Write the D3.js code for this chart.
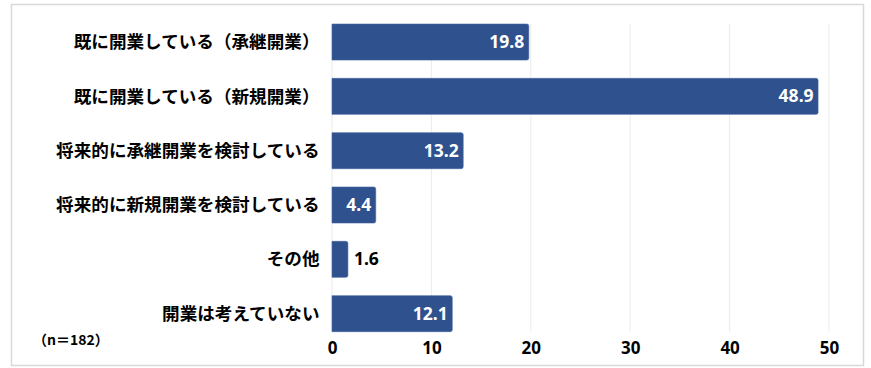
<!DOCTYPE html>
<html><head><meta charset="utf-8">
<script src="https://cdn.jsdelivr.net/npm/d3@7"></script>
<style>
html,body{margin:0;padding:0;background:#fff;}
text{font-family:"Noto Sans CJK JP","Noto Sans",sans-serif;font-weight:bold;}
</style></head>
<body>
<svg id="c" width="871" height="368"></svg>
<script>
const categories = [
  "既に開業している（承継開業）",
  "既に開業している（新規開業）",
  "将来的に承継開業を検討している",
  "将来的に新規開業を検討している",
  "その他",
  "開業は考えていない"
];
const values = [19.8, 48.9, 13.2, 4.4, 1.6, 12.1];
const tickValues = [0, 10, 20, 30, 40, 50];
const note = "（n＝182）";

const svg = d3.select("#c");
svg.append("rect").attr("x", 11.5).attr("y", 4.5).attr("width", 852).attr("height", 361)
  .attr("fill", "#fff").attr("stroke", "#d9d9d9").attr("stroke-width", 1.5);

const x = d3.scaleLinear().domain([0, 50]).range([332, 829]);
const y = d3.scaleBand().domain(categories).range([14.9, 340.8]).paddingInner(0.337).paddingOuter(0.168);

// gridlines
svg.append("g").selectAll("line").data(tickValues).join("line")
  .attr("x1", d => x(d)).attr("x2", d => x(d))
  .attr("y1", y(categories[0])).attr("y2", y(categories[categories.length-1]) + y.bandwidth())
  .attr("stroke", "#ebebeb").attr("stroke-width", 1);

// bars
const barColor = "#2F528F";
svg.append("g").selectAll("path").data(values).join("path")
  .attr("d", (d, i) => {
    const x0 = x(0), x1 = x(d), y0 = y(categories[i]), h = y.bandwidth(), r = 2;
    return `M${x0},${y0} H${x1 - r} Q${x1},${y0} ${x1},${y0 + r} V${y0 + h - r} Q${x1},${y0 + h} ${x1 - r},${y0 + h} H${x0} Z`;
  })
  .attr("fill", barColor)
  .attr("stroke", "#4565a0").attr("stroke-width", 0.6);

// value labels
svg.append("g").selectAll("text").data(values).join("text")
  .attr("x", d => d < 3 ? x(d) + 6 : x(d) - 4.5)
  .attr("y", (d, i) => y(categories[i]) + y.bandwidth() / 2)
  .attr("dy", "0.35em")
  .attr("text-anchor", d => d < 3 ? "start" : "end")
  .attr("fill", d => d < 3 ? "#000" : "#fff")
  .style("font-family", "'Noto Sans','Noto Sans CJK JP',sans-serif")
  .attr("font-size", 17.5)
  .text(d => d.toFixed(1));

// category labels
svg.append("g").selectAll("text").data(categories).join("text")
  .attr("x", 319.5)
  .attr("y", d => y(d) + y.bandwidth() / 2)
  .attr("dy", "0.35em")
  .attr("text-anchor", "end")
  .attr("fill", "#000")
  .attr("font-size", 17.6)
  .text(d => d);

// x axis
const axis = d3.axisBottom(x).tickValues(tickValues).tickSize(0).tickPadding(0);
const ag = svg.append("g").attr("transform", "translate(0,341)").call(axis);
ag.select(".domain").remove();
ag.selectAll("text").attr("font-size", 17).attr("fill", "#000")
  .style("font-family", "'Noto Sans','Noto Sans CJK JP',sans-serif")
  .attr("dy", "0.35em").attr("y", 7);

// note
svg.append("text").attr("x", 33).attr("y", 340).attr("dy", "0.35em")
  .attr("font-size", 14).attr("fill", "#000").text(note);
</script>
</body></html>
